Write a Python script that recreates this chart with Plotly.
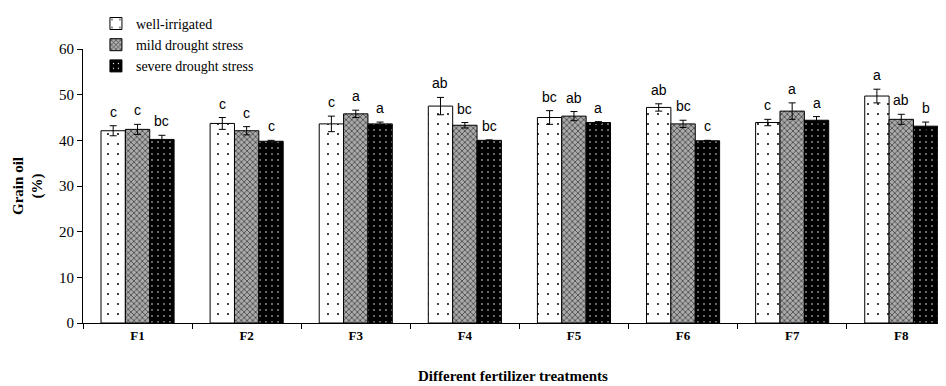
import plotly.graph_objects as go

categories = ["F1", "F2", "F3", "F4", "F5", "F6", "F7", "F8"]
series_names = ["well-irrigated", "mild drought stress", "severe drought stress"]

well_vals = [42.1, 43.7, 43.6, 47.5, 45.0, 47.2, 43.9, 49.7]
well_err = [1.1, 1.3, 1.7, 1.9, 1.5, 0.8, 0.7, 1.5]
well_letters = ["c", "c", "c", "ab", "bc", "ab", "c", "a"]

mild_vals = [42.4, 42.1, 45.8, 43.3, 45.3, 43.6, 46.4, 44.6]
mild_err = [1.1, 0.9, 0.8, 0.6, 1.0, 0.8, 1.8, 1.1]
mild_letters = ["c", "c", "a", "bc", "ab", "bc", "a", "ab"]

severe_vals = [40.2, 39.8, 43.6, 40.0, 43.9, 39.9, 44.4, 43.1]
severe_err = [0.9, 0.2, 0.4, 0.1, 0.2, 0.1, 0.8, 0.9]
severe_letters = ["bc", "c", "a", "bc", "a", "c", "a", "b"]

serif = "Liberation Serif, Times New Roman, serif"
sans = "Liberation Sans, Arial, sans-serif"

styles = [
    dict(color="white", pattern=dict(shape=".", fgcolor="black", bgcolor="white", size=10, solidity=0.03, fillmode="replace")),
    dict(color="#8a8a8a", pattern=dict(shape="x", fgcolor="#2a2a2a", bgcolor="#aaaaaa", size=4, solidity=0.3, fillmode="replace")),
    dict(color="black", pattern=dict(shape=".", fgcolor="white", bgcolor="black", size=6, solidity=0.05, fillmode="replace")),
]

data = [
    (well_vals, well_err, well_letters),
    (mild_vals, mild_err, mild_letters),
    (severe_vals, severe_err, severe_letters),
]

fig = go.Figure()
for name, (vals, errs, _), st in zip(series_names, data, styles):
    fig.add_trace(go.Bar(
        x=categories, y=vals, name=name,
        marker=dict(color=st["color"], pattern=st["pattern"], line=dict(color="black", width=1)),
        error_y=dict(type="data", array=errs, visible=True, color="black", thickness=1, width=3.5),
    ))

# page body has an 8px margin, so the figure is drawn 8px smaller
W, H = 938, 378
ML, MT, MB = 75, 41, 63
plot_h = H - MT - MB
plot_w = W - ML
bar_px = 24.4
shifts = [-bar_px, 0, bar_px]
annotations = []
for (vals, errs, letters), sh in zip(data, shifts):
    for c, v, e, t in zip(categories, vals, errs, letters):
        annotations.append(dict(
            x=c, y=v + e, xref="x", yref="y", text=t, showarrow=False,
            xshift=sh, yshift=4, yanchor="bottom",
            font=dict(family=sans, size=14, color="black"),
        ))

annotations.append(dict(
    text="<b>Different fertilizer treatments</b>", xref="paper", yref="paper",
    x=(513 - 83) / plot_w, y=-(376 - 323) / plot_h, xanchor="center", yanchor="middle",
    showarrow=False, font=dict(family=serif, size=15, color="black"),
))

fig.update_layout(
    width=W, height=H,
    margin=dict(l=ML, r=0, t=MT, b=MB, autoexpand=False),
    paper_bgcolor="white", plot_bgcolor="white",
    barmode="group", bargap=0.33, bargroupgap=0,
    annotations=annotations,
    showlegend=True,
    legend=dict(x=0.015, y=1.15, xanchor="left", yanchor="top",
                font=dict(family=serif, size=14, color="black"),
                bgcolor="rgba(0,0,0,0)", tracegroupgap=0, itemwidth=30),
    xaxis=dict(
        range=[-0.5, 7.41], tickson="boundaries", ticks="outside", ticklen=5,
        tickcolor="black", showline=True, linecolor="black", linewidth=1,
        showgrid=False,
        tickfont=dict(family=serif, size=13, color="black", weight="bold"),
    ),
    yaxis=dict(
        range=[0, 60], dtick=10, ticks="outside", ticklen=5, tickcolor="black",
        showline=True, linecolor="black", linewidth=1, showgrid=False, zeroline=False,
        tickfont=dict(family=serif, size=15, color="black"),
        title=dict(text="<b>Grain oil<br>(%)</b>",
                   font=dict(family=serif, size=15, color="black"), standoff=12),
    ),
    font=dict(family=serif, color="black"),
)

fig.write_html("out.html")
